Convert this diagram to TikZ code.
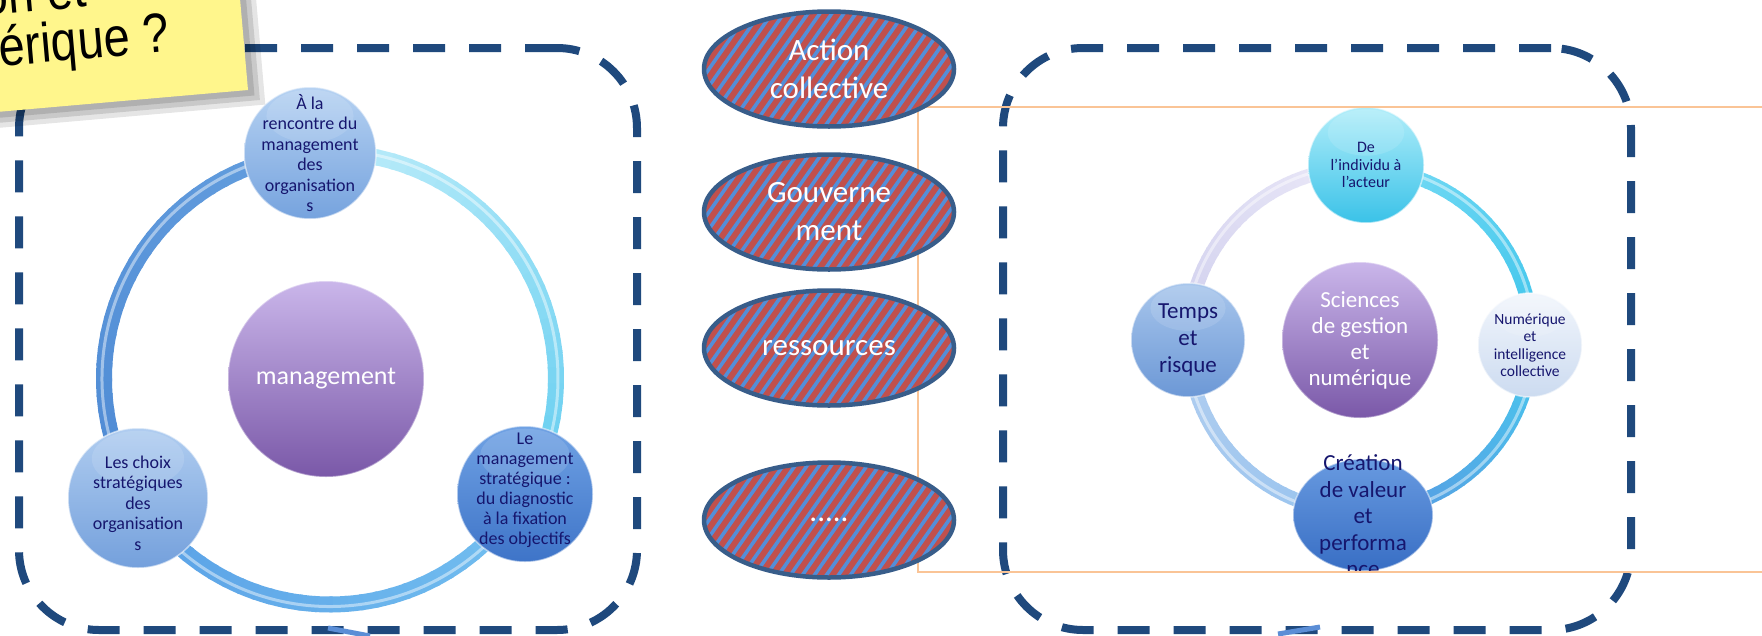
\documentclass[tikz,border=0pt]{standalone}
\usepackage{fontspec}
\setmainfont{Carlito}
\newfontfamily\notefont{Liberation Sans}
\usetikzlibrary{shapes.geometric,calc}
\definecolor{dashblue}{RGB}{31,73,125}
\definecolor{ellred}{RGB}{192,80,77}
\definecolor{stripeblue}{RGB}{84,142,216}
\definecolor{elledge}{RGB}{56,93,138}
\definecolor{navytext}{RGB}{22,22,110}
\definecolor{orangeframe}{RGB}{250,196,150}
\definecolor{notey}{RGB}{255,246,140}
\definecolor{stubblue}{RGB}{91,142,214}
\definecolor{purpTop}{RGB}{202,182,234}
\definecolor{purpBot}{RGB}{122,88,168}
% left ring arcs
\definecolor{lrA}{RGB}{192,238,250}
\definecolor{lrB}{RGB}{100,205,240}
\definecolor{lrC}{RGB}{115,192,240}
\definecolor{lrD}{RGB}{90,160,230}
\definecolor{lrE}{RGB}{78,138,212}
\definecolor{lrF}{RGB}{100,158,222}
% right ring arcs
\definecolor{rrA}{RGB}{120,220,245}
\definecolor{rrB}{RGB}{62,196,235}
\definecolor{rrC}{RGB}{72,200,238}
\definecolor{rrD}{RGB}{90,152,225}
\definecolor{rrE}{RGB}{150,195,238}
\definecolor{rrF}{RGB}{178,206,240}
\definecolor{rrG}{RGB}{208,208,238}
\definecolor{rrH}{RGB}{236,233,248}
\newcommand\ringarc[7]{%
  \foreach \i in {0,...,29}{%
    \pgfmathsetmacro\sa{(#3)+((#4)-(#3))*\i/30}%
    \pgfmathsetmacro\ea{(#3)+((#4)-(#3))*(\i+1.2)/30}%
    \pgfmathsetmacro\pc{100*\i/29}%
    \draw[line width=#7, color=#6!\pc!#5] (#1) ++(\sa:#2) arc[start angle=\sa, end angle=\ea, radius=#2];
  }%
  \draw[white, opacity=0.45, line width=3pt] (#1) ++(#3:#2+2) arc[start angle=#3, end angle=#4, radius=#2+2];
}
\tikzset{
  dashbox/.style={draw=dashblue, line width=8pt, dash pattern=on 32pt off 24pt,
    rounded corners=80pt, inner sep=0pt, rectangle},
  catell/.style={ellipse, draw=elledge, line width=4.5pt, minimum width=250pt,
    minimum height=115pt, inner sep=0pt, text=white, align=center,
    font=\fontsize{31}{38}\selectfont,
    path picture={
      \fill[ellred] (path picture bounding box.south west) rectangle (path picture bounding box.north east);
      \foreach \k in {-17,...,17}{
        \draw[stripeblue, line width=3.6pt] ([xshift=\k*12pt]path picture bounding box.center) ++(-84pt,-120pt) -- ++(168pt,240pt);
      }
    }},
  ball/.style={circle, minimum size=#1, inner sep=0pt, draw=white, draw opacity=0.55, line width=1.5pt,
    path picture={
      \fill[white, opacity=0.12] ([yshift=-0.22*#1]path picture bounding box.north) ellipse [x radius=0.33*#1, y radius=0.2*#1];
    }},
  purpball/.style={circle, minimum size=#1, inner sep=0pt, top color=purpTop, bottom color=purpBot,
    draw=white, draw opacity=0.4, line width=1.5pt},
  sattext/.style={align=center, text=navytext, inner sep=0pt},
  wtext/.style={align=center, text=white, inner sep=0pt},
  notetext/.style={font=\notefont\fontsize{47}{52}\selectfont, inner sep=0pt, text=black, transform shape, yscale=1.18},
}
\begin{document}
\begin{tikzpicture}[x=1pt,y=1pt]
\useasboundingbox (0,0) rectangle (1762,-635);
\clip (0,0) rectangle (1762,-635);
\fill[white] (0,0) rectangle (1762,-635);

% dashed boxes
\node[dashbox, minimum width=618pt, minimum height=582pt] (boxL) at (328,-339) {};
\node[dashbox, minimum width=628pt, minimum height=582pt] (boxR) at (1317,-339) {};

% ---------------- left cycle ----------------
\coordinate (C1) at (330,-378.5);
\ringarc{C1}{226}{95.1}{-30.6}{lrA}{lrB}{16pt}
\ringarc{C1}{226}{-30.6}{-148.1}{lrC}{lrD}{16pt}
\ringarc{C1}{226}{-148.1}{-264.9}{lrE}{lrF}{16pt}

\node[purpball=196pt] (mL) at (326,-379) {};
\node[wtext, font=\fontsize{26}{30}\selectfont] (mLt) at (mL) {management};

\node[ball=132pt, top color={rgb,255:red,182;green,210;blue,242}, bottom color={rgb,255:red,118;green,163;blue,222}] (sA) at (310,-153) {};
\node[sattext, font=\fontsize{18}{20.5}\selectfont] (sAt) at (sA) {À la\\rencontre du\\management\\des\\organisation\\s};

\node[ball=140pt, top color={rgb,255:red,176;green,205;blue,240}, bottom color={rgb,255:red,116;green,160;blue,220}] (sB) at (138,-498) {};
\node[sattext, font=\fontsize{18}{20.5}\selectfont] (sBt) at ([yshift=-5pt]sB) {Les choix\\stratégiques\\des\\organisation\\s};

\node[ball=136pt, top color={rgb,255:red,112;green,162;blue,228}, bottom color={rgb,255:red,62;green,116;blue,200}] (sC) at (525,-494) {};
\node[sattext, font=\fontsize{18}{20}\selectfont] (sCt) at ([yshift=4pt]sC) {Le\\management\\stratégique :\\du diagnostic\\à la fixation\\des objectifs};

% ---------------- right cycle ----------------
\coordinate (C2) at (1360,-340);
\ringarc{C2}{172}{88}{-1.7}{rrA}{rrB}{14pt}
\ringarc{C2}{172}{-1.7}{-89}{rrC}{rrD}{14pt}
\ringarc{C2}{172}{-89}{-180}{rrE}{rrF}{14pt}
\ringarc{C2}{172}{-180}{-272}{rrG}{rrH}{14pt}

\node[purpball=156pt] (mR) at (1360,-340) {};
\node[wtext, font=\fontsize{23}{26}\selectfont] (mRt) at (mR) {Sciences\\de gestion\\et\\numérique};

\node[ball=116pt, top color={rgb,255:red,178;green,238;blue,250}, bottom color={rgb,255:red,58;green,194;blue,232}] (rA) at (1366,-165) {};
\node[sattext, font=\fontsize{16}{17.5}\selectfont] (rAt) at (rA) {De\\l'individu à\\l'acteur};

\node[ball=114pt, top color={rgb,255:red,168;green,198;blue,236}, bottom color={rgb,255:red,108;green,152;blue,214}] (rL) at (1188,-340) {};
\node[sattext, font=\fontsize{23}{27}\selectfont] (rLt) at (rL) {Temps\\et\\risque};

\node[ball=104pt, top color={rgb,255:red,242;green,246;blue,252}, bottom color={rgb,255:red,204;green,219;blue,240}] (rR) at (1530,-345) {};
\node[sattext, font=\fontsize{15.5}{17.5}\selectfont] (rRt) at (rR) {Numérique\\et\\intelligence\\collective};

\node[ellipse, inner sep=0pt, minimum width=140pt, minimum height=112pt, draw=white, draw opacity=0.5, line width=1.5pt,
  top color={rgb,255:red,104;green,154;blue,224}, bottom color={rgb,255:red,56;green,110;blue,196}] (rB) at (1363,-515) {};
\begin{scope}
  \clip (900,-100) rectangle (1800,-571);
  \node[sattext, font=\fontsize{23}{26.5}\selectfont] (rBt) at ([yshift=-1pt]rB) {Création\\de valeur\\et\\performa\\nce};
\end{scope}

% orange frame
\draw[orangeframe, line width=2pt] (918,-107) rectangle (1800,-572);

% striped ellipses
\node[catell] (e1) at (829,-69) {Action\\collective};
\node[catell] (e2) at (829,-212) {Gouverne\\ment};
\node[catell] (e3) at (829,-348) {ressources};
\node[catell] (e4) at (829,-520) {.....};

% stubs at the bottom
\coordinate (s1a) at (328,-628); \coordinate (s1b) at (370,-636);
\coordinate (s2a) at (1278,-634); \coordinate (s2b) at (1320,-627);
\draw[stubblue, line width=5pt] (s1a) -- (s1b);
\draw[stubblue, line width=5pt] (s2a) -- (s2b);

% sticky note
\begin{scope}[shift={(248,-90)}, rotate=5]
  \fill[black, opacity=0.10] (-440,-16) rectangle (16,230);
  \fill[black, opacity=0.12] (-440,-11) rectangle (11,230);
  \fill[black, opacity=0.12] (-440,-6) rectangle (6,230);
  \fill[notey] (-440,0) rectangle (0,240);
  \node[notetext, anchor=base east] (q2) at (-74,45) {érique ?};
  \node[notetext, anchor=base east] (q1) at (-152,97) {on et};
\end{scope}
\end{tikzpicture}
\end{document}
